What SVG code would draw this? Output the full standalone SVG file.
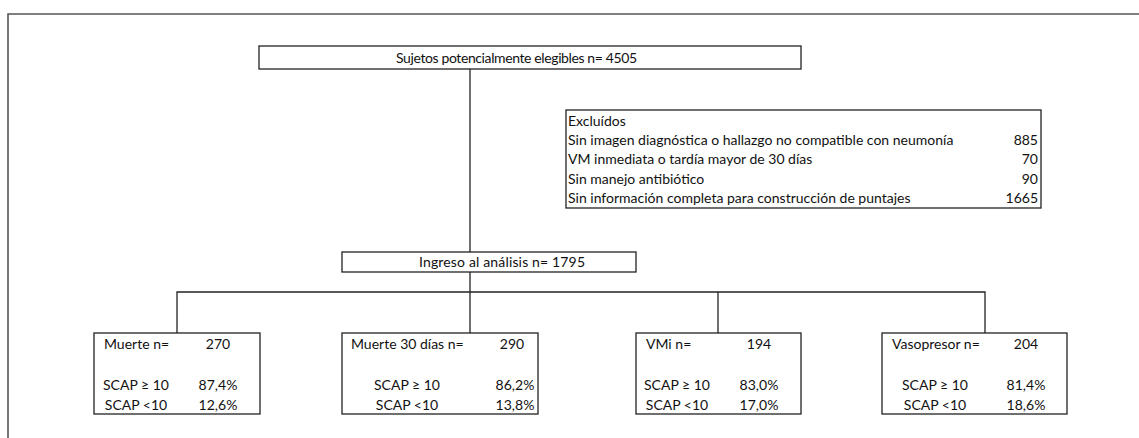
<svg xmlns="http://www.w3.org/2000/svg" width="1139" height="438" viewBox="0 0 1139 438">
<style>
.box{fill:#fff;stroke:#222;stroke-width:1.3}
.ln{fill:none;stroke:#222;stroke-width:1.3}
.frame{fill:none;stroke:#555;stroke-width:1.6}
text{font-family:Lato,"Liberation Sans",Arial,sans-serif;font-size:14px;fill:#111}
.m{text-anchor:middle}
.r{text-anchor:end}
</style>
<rect width="1139" height="438" fill="#fff"/>
<path class="frame" d="M8,438 V14 H1139"/>
<g id="connectors">
<path class="ln" d="M470,69 V252"/>
<path class="ln" d="M470,272 V333"/>
<path class="ln" d="M177,333 V292 H985 V333"/>
<path class="ln" d="M718,292 V333"/>
</g>
<g id="n_sujetos">
<rect class="box" x="259" y="46" width="542" height="23"/>
<text x="396" y="63" textLength="241">Sujetos potencialmente elegibles n= 4505</text>
</g>
<g id="n_excluidos">
<rect class="box" x="566" y="110" width="475" height="98"/>
<text x="568" y="126">Excluídos</text>
<text x="568" y="145">Sin imagen diagnóstica o hallazgo no compatible con neumonía</text>
<text x="1038" y="145" class="r">885</text>
<text x="568" y="164">VM inmediata o tardía mayor de 30 días</text>
<text x="1038" y="164" class="r">70</text>
<text x="568" y="184">Sin manejo antibiótico</text>
<text x="1038" y="184" class="r">90</text>
<text x="568" y="203">Sin información completa para construcción de puntajes</text>
<text x="1038" y="203" class="r">1665</text>
</g>
<g id="n_ingreso">
<rect class="box" x="342" y="252" width="294" height="20"/>
<text x="419" y="267" textLength="166">Ingreso al análisis n= 1795</text>
</g>
<g id="n_muerte">
<rect class="box" x="94" y="333" width="166" height="81"/>
<text x="104" y="349">Muerte n=</text>
<text x="218" y="349" class="m">270</text>
<text x="136" y="390" class="m">SCAP ≥ 10</text>
<text x="218" y="390" class="m">87,4%</text>
<text x="136" y="410" class="m">SCAP &lt;10</text>
<text x="218" y="410" class="m">12,6%</text>
</g>
<g id="n_muerte30">
<rect class="box" x="342" y="333" width="196" height="81"/>
<text x="351" y="349">Muerte 30 días n=</text>
<text x="512" y="349" class="m">290</text>
<text x="407" y="390" class="m">SCAP ≥ 10</text>
<text x="515" y="390" class="m">86,2%</text>
<text x="407" y="410" class="m">SCAP &lt;10</text>
<text x="515" y="410" class="m">13,8%</text>
</g>
<g id="n_vmi">
<rect class="box" x="636" y="333" width="165" height="81"/>
<text x="646" y="349">VMi n=</text>
<text x="759" y="349" class="m">194</text>
<text x="677" y="390" class="m">SCAP ≥ 10</text>
<text x="759" y="390" class="m">83,0%</text>
<text x="677" y="410" class="m">SCAP &lt;10</text>
<text x="759" y="410" class="m">17,0%</text>
</g>
<g id="n_vasopresor">
<rect class="box" x="882" y="333" width="185" height="81"/>
<text x="892" y="349">Vasopresor n=</text>
<text x="1026" y="349" class="m">204</text>
<text x="935" y="390" class="m">SCAP ≥ 10</text>
<text x="1026" y="390" class="m">81,4%</text>
<text x="935" y="410" class="m">SCAP &lt;10</text>
<text x="1026" y="410" class="m">18,6%</text>
</g>
</svg>
